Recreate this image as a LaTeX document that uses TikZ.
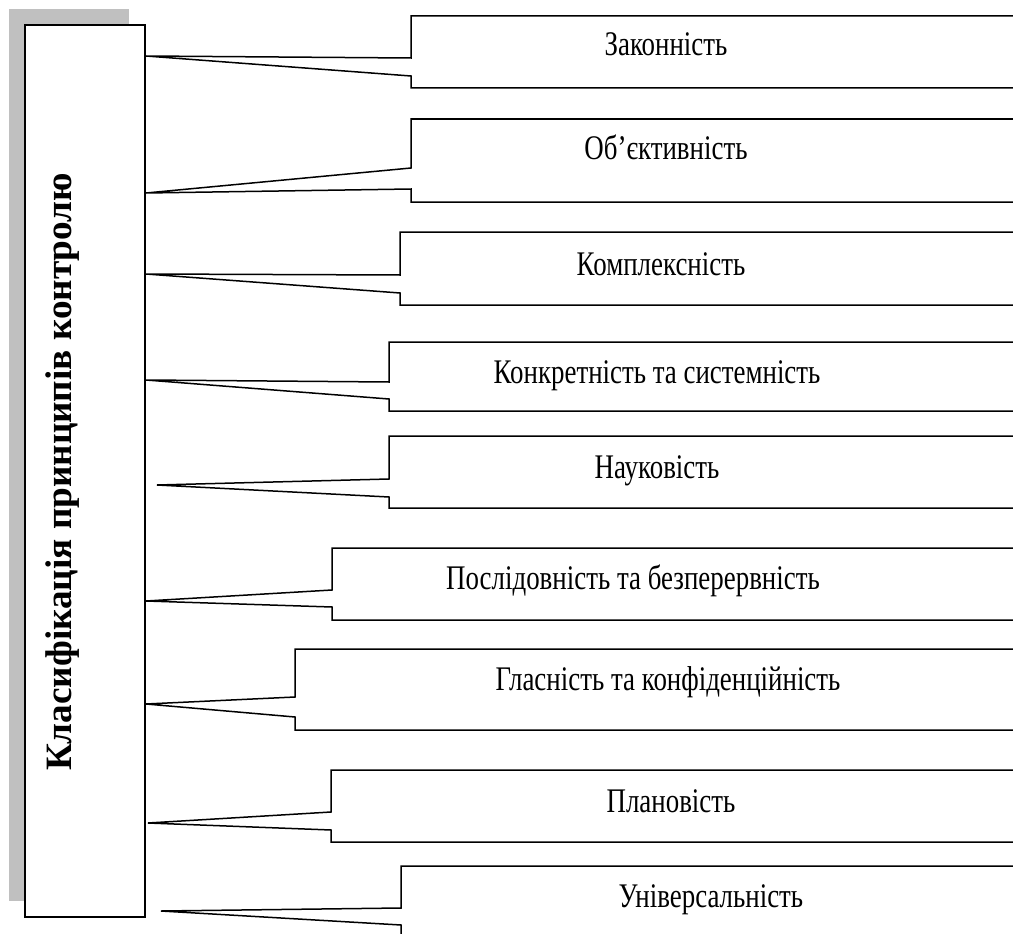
\documentclass[tikz,border=0pt]{standalone}
\usepackage{fontspec}
\setmainfont{Liberation Serif}
\usepackage{graphicx}
\newcommand{\sx}[1]{\scalebox{0.78}[1]{#1}}
\tikzset{
  lbl/.style={anchor=base, inner sep=0pt, font=\fontsize{34.5}{40}\selectfont},
  callout/.style={draw=black, line width=1.5pt, line join=miter, fill=white},
  mainbox/.style={draw=black, line width=1.5pt, fill=white, inner sep=0pt}
}
\definecolor{shadowgray}{RGB}{192,192,192}
\begin{document}
\begin{tikzpicture}[x=1pt,y=-1pt]
\useasboundingbox (0,0) rectangle (1013,934);
\clip (0,0) rectangle (1013,934);
% shadow and main box
\fill[shadowgray] (9,9) rectangle (129,901);
\node[mainbox, minimum width=120pt, minimum height=892pt] (main) at (85,471) {};
\node[rotate=90, inner sep=0pt, font=\fontsize{37.2}{42}\selectfont\bfseries] (title) at (63,472) {Класифікація принципів контролю};
% pointer tips
\coordinate (p1) at (146,56);
\coordinate (p2) at (146,193);
\coordinate (p3) at (146,274);
\coordinate (p4) at (146,380);
\coordinate (p5) at (157,485);
\coordinate (p6) at (146,601);
\coordinate (p7) at (146,704);
\coordinate (p8) at (148,823);
\coordinate (p9) at (161,911);
% callouts
\draw[callout] (1030,16) -- (411,16) -- (411,58) -- (p1) -- (411,76) -- (411,88) -- (1030,88);
\draw[callout] (1030,119) -- (411,119) -- (411,168) -- (p2) -- (411,189) -- (411,202) -- (1030,202);
\draw[callout] (1030,232) -- (400,232) -- (400,275) -- (p3) -- (400,293) -- (400,305) -- (1030,305);
\draw[callout] (1030,342) -- (389,342) -- (389,382) -- (p4) -- (389,399) -- (389,411) -- (1030,411);
\draw[callout] (1030,436) -- (389,436) -- (389,479) -- (p5) -- (389,497) -- (389,508) -- (1030,508);
\draw[callout] (1030,548) -- (332,548) -- (332,590) -- (p6) -- (332,607) -- (332,620) -- (1030,620);
\draw[callout] (1030,649) -- (295,649) -- (295,697) -- (p7) -- (295,717) -- (295,730) -- (1030,730);
\draw[callout] (1030,770) -- (331,770) -- (331,812) -- (p8) -- (331,830) -- (331,842) -- (1030,842);
\draw[callout] (1030,866) -- (401,866) -- (401,908) -- (p9) -- (401,925) -- (401,980) -- (1030,980);
% labels
\node[lbl] (t1) at (666,56) {\sx{Законність}};
\node[lbl] (t2) at (666,159) {\sx{Об’єктивність}};
\node[lbl] (t3) at (661,275) {\sx{Комплексність}};
\node[lbl] (t4) at (657,383) {\sx{Конкретність та системність}};
\node[lbl] (t5) at (657,478) {\sx{Науковість}};
\node[lbl] (t6) at (633,589) {\sx{Послідовність та безперервність}};
\node[lbl] (t7) at (668,690) {\sx{Гласність та конфіденційність}};
\node[lbl] (t8) at (671,812) {\sx{Плановість}};
\node[lbl] (t9) at (711,907) {\sx{Універсальність}};
\end{tikzpicture}
\end{document}
